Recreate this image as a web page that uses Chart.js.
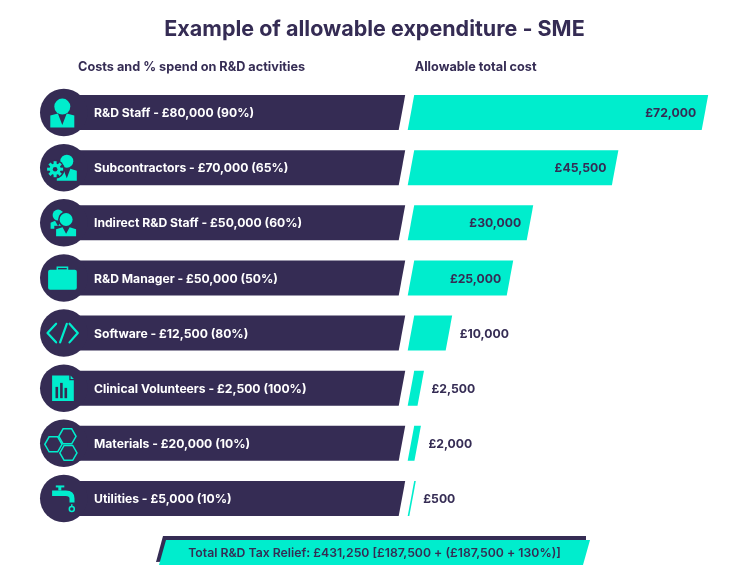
<!DOCTYPE html>
<html lang="en">
<head>
  <meta charset="UTF-8" />
  <title>Example of allowable expenditure - SME</title>
  <script src="https://cdn.jsdelivr.net/npm/chart.js"></script>
  <style>
    html, body { margin: 0; padding: 0; background: #fff; }
    #chart { display: block; }
  </style>
</head>
<body>
  <canvas id="chart" width="734" height="577"></canvas>

  <script>
    const categories = ['R&D Staff', 'Subcontractors', 'Indirect R&D Staff', 'R&D Manager', 'Software', 'Clinical Volunteers', 'Materials', 'Utilities'];
    const costs = ['£80,000', '£70,000', '£50,000', '£50,000', '£12,500', '£2,500', '£20,000', '£5,000'];
    const spendPct = [90, 65, 60, 50, 80, 100, 10, 10];
    const allowableLabels = ['£72,000', '£45,500', '£30,000', '£25,000', '£10,000', '£2,500', '£2,000', '£500'];
    // bar lengths read off the bars themselves, the picture is not quite to scale with its labels
    const allowableBars = [72000, 50000, 29150, 24250, 9300, 2400, 1650, 400];
    // left hand bars are all the same length
    const costBars = [100, 100, 100, 100, 100, 100, 100, 100];
    const iconNames = ['person', 'contractor', 'people', 'case', 'code', 'doc', 'hex', 'tap'];
    const titleText = 'Example of allowable expenditure - SME';
    const headingCosts = 'Costs and % spend on R&D activities';
    const headingAllowable = 'Allowable total cost';
    const totalText = 'Total R&D Tax Relief: £431,250 [£187,500 + (£187,500 + 130%)]';

    const DARK = '#352c54';
    const TEAL = '#00edcd';
    const FONT = 'Inter, "Noto Sans", sans-serif';
    const SLANT = 6.5;

    function slantBar(ctx, x0, x1, yTop, yBot, slantLeft) {
      ctx.beginPath();
      ctx.moveTo(x0, yBot);
      ctx.lineTo(x0 + (slantLeft ? SLANT : 0), yTop);
      ctx.lineTo(x1 + SLANT, yTop);
      ctx.lineTo(x1, yBot);
      ctx.closePath();
      ctx.fill();
    }

    // little person, head + shoulders with a v neck
    function person(ctx, cx, headY, r, top, bottom, halfW) {
      ctx.beginPath();
      ctx.arc(cx, headY, r, 0, Math.PI * 2);
      ctx.fill();
      ctx.beginPath();
      ctx.moveTo(cx - halfW, bottom);
      ctx.lineTo(cx - halfW, top + 2);
      ctx.lineTo(cx - r * 0.55, top);
      ctx.lineTo(cx, bottom - 2.5);
      ctx.lineTo(cx + r * 0.55, top);
      ctx.lineTo(cx + halfW, top + 2);
      ctx.lineTo(cx + halfW, bottom);
      ctx.closePath();
      ctx.fill();
    }

    function halo(ctx, cx, cy, r) {
      ctx.fillStyle = DARK;
      ctx.beginPath();
      ctx.arc(cx, cy, r, 0, Math.PI * 2);
      ctx.fill();
      ctx.fillStyle = TEAL;
    }

    const icons = {
      person(ctx) {
        person(ctx, -1.5, -6, 8, 1, 15, 12);
      },
      contractor(ctx) {
        person(ctx, 3, -6.5, 6.5, 1, 13, 10);
        halo(ctx, -8.7, 1.5, 9.5);
        ctx.save();
        ctx.translate(-8.7, 1.5);
        for (let i = 0; i < 8; i++) {
          ctx.rotate(Math.PI / 4);
          ctx.fillRect(-1.5, -8, 3, 4);
        }
        ctx.restore();
        ctx.beginPath();
        ctx.arc(-8.7, 1.5, 5.6, 0, Math.PI * 2);
        ctx.fill();
        ctx.fillStyle = DARK;
        ctx.beginPath();
        ctx.arc(-8.7, 1.5, 2.3, 0, Math.PI * 2);
        ctx.fill();
        ctx.fillStyle = TEAL;
      },
      people(ctx) {
        person(ctx, -5.7, -7.7, 5.5, -2, 6, 7.5);
        halo(ctx, 2.3, -3.3, 8);
        ctx.fillStyle = DARK;
        ctx.fillRect(-9.5, 3, 22, 12);
        ctx.fillStyle = TEAL;
        person(ctx, 2.3, -3.3, 6.5, 4.5, 13.5, 10);
      },
      case(ctx) {
        ctx.strokeStyle = TEAL;
        ctx.lineWidth = 1.5;
        ctx.strokeRect(-6.5, -10.7, 10.2, 3);
        ctx.beginPath();
        ctx.roundRect(-15.7, -8.3, 28.7, 20, 2);
        ctx.fill();
      },
      code(ctx) {
        ctx.strokeStyle = TEAL;
        ctx.lineWidth = 2.2;
        ctx.lineCap = 'round';
        ctx.lineJoin = 'round';
        ctx.beginPath();
        ctx.moveTo(-7.7, -9.3); ctx.lineTo(-16.3, 0); ctx.lineTo(-7.7, 9.3);
        ctx.moveTo(3, -9.3); ctx.lineTo(-3.7, 9.3);
        ctx.moveTo(5.7, -9.3); ctx.lineTo(14, 0); ctx.lineTo(5.7, 9.3);
        ctx.stroke();
      },
      doc(ctx) {
        ctx.beginPath();
        ctx.moveTo(-11.7, -12.7);
        ctx.lineTo(5.5, -12.7);
        ctx.lineTo(5.5, -8);
        ctx.lineTo(10, -8);
        ctx.lineTo(10, 12.7);
        ctx.lineTo(-11.7, 12.7);
        ctx.closePath();
        ctx.fill();
        ctx.beginPath();
        ctx.moveTo(6.8, -12.7); ctx.lineTo(10, -9.3); ctx.lineTo(6.8, -9.3);
        ctx.closePath();
        ctx.fill();
        ctx.fillStyle = DARK;
        ctx.fillRect(-8.3, -1.3, 2.6, 11.3);
        ctx.fillRect(-3.7, -5.3, 2.6, 15.3);
        ctx.fillRect(0.7, -0.3, 2.6, 10.3);
      },
      hex(ctx) {
        ctx.strokeStyle = TEAL;
        ctx.lineWidth = 1.5;
        [[3.6, -7], [-10.4, 1], [4.6, 9.6]].forEach(c => {
          ctx.beginPath();
          for (let i = 0; i < 6; i++) {
            const a = i * Math.PI / 3;
            const px = c[0] + 8.6 * Math.cos(a);
            const py = c[1] + 8.6 * Math.sin(a);
            if (i === 0) ctx.moveTo(px, py); else ctx.lineTo(px, py);
          }
          ctx.closePath();
          ctx.stroke();
        });
      },
      tap(ctx) {
        ctx.fillRect(-8, -13, 8.5, 2);
        ctx.fillRect(-5.5, -12, 3, 4);
        ctx.beginPath();
        ctx.moveTo(-11.7, -8);
        ctx.lineTo(2, -8);
        ctx.quadraticCurveTo(10.7, -8, 10.7, 0);
        ctx.lineTo(10.7, 4);
        ctx.lineTo(5.7, 4);
        ctx.lineTo(5.7, 0);
        ctx.quadraticCurveTo(5.7, -2.5, 2, -2.5);
        ctx.lineTo(-11.7, -2.5);
        ctx.closePath();
        ctx.fill();
        ctx.strokeStyle = TEAL;
        ctx.lineWidth = 1.5;
        ctx.beginPath();
        ctx.arc(8, 10.6, 2.5, 0, Math.PI * 2);
        ctx.moveTo(8, 5.8);
        ctx.lineTo(8, 8);
        ctx.stroke();
      }
    };

    // bars get their slanted ends here, geometry still comes from the scales
    const slantedBars = {
      id: 'slantedBars',
      beforeDatasetDraw(chart, args) {
        const ctx = chart.ctx;
        ctx.save();
        args.meta.data.forEach(bar => {
          const h = bar.height / 2;
          ctx.fillStyle = bar.options.backgroundColor;
          slantBar(ctx, bar.base, bar.x, bar.y - h, bar.y + h, args.index === 1);
        });
        ctx.restore();
        return false;
      }
    };

    const rowDecor = {
      id: 'rowDecor',
      afterDatasetsDraw(chart) {
        const ctx = chart.ctx;
        const darkMeta = chart.getDatasetMeta(0);
        const tealMeta = chart.getDatasetMeta(1);
        const costX = chart.scales.xCost.getPixelForValue(0);
        const allowX = chart.scales.xAllow.getPixelForValue(0);

        ctx.save();
        ctx.textBaseline = 'middle';

        // column headings
        ctx.fillStyle = DARK;
        ctx.font = '700 12.7px ' + FONT;
        ctx.textAlign = 'left';
        ctx.fillText(headingCosts, costX, 67.5);
        ctx.fillText(headingAllowable, allowX + 7, 67.5);

        darkMeta.data.forEach((bar, i) => {
          // round icon badge
          const cx = costX - 14.2;
          ctx.fillStyle = DARK;
          ctx.beginPath();
          ctx.arc(cx, bar.y, 23.8, 0, Math.PI * 2);
          ctx.fill();

          ctx.save();
          ctx.translate(cx, bar.y);
          ctx.fillStyle = TEAL;
          icons[iconNames[i]](ctx);
          ctx.restore();

          // cost label
          ctx.fillStyle = '#ffffff';
          ctx.textAlign = 'left';
          ctx.font = '700 12.15px ' + FONT;
          ctx.fillText(categories[i] + ' - ' + costs[i] + ' (' + spendPct[i] + '%)', costX + 16, bar.y + 1);

          // allowable label, inside the bar for the long ones
          const teal = tealMeta.data[i];
          ctx.fillStyle = DARK;
          ctx.font = '700 12.2px ' + FONT;
          if (allowableBars[i] >= 20000) {
            ctx.textAlign = 'right';
            ctx.fillText(allowableLabels[i], teal.x - 5.5, bar.y + 1);
          } else {
            ctx.textAlign = 'left';
            ctx.fillText(allowableLabels[i], teal.x + SLANT + 7.5, bar.y + 1);
          }
        });

        // total banner under the chart
        ctx.fillStyle = DARK;
        ctx.beginPath();
        ctx.moveTo(163, 536); ctx.lineTo(586, 536); ctx.lineTo(586, 545); ctx.lineTo(156, 562);
        ctx.closePath();
        ctx.fill();
        ctx.fillStyle = TEAL;
        ctx.beginPath();
        ctx.moveTo(166, 540); ctx.lineTo(590, 540); ctx.lineTo(583, 565); ctx.lineTo(159, 565);
        ctx.closePath();
        ctx.fill();
        ctx.fillStyle = DARK;
        ctx.textAlign = 'center';
        ctx.font = '600 12.25px ' + FONT;
        ctx.fillText(totalText, 374.5, 553);
        ctx.restore();
      }
    };

    new Chart(document.getElementById('chart'), {
      type: 'bar',
      data: {
        labels: categories,
        datasets: [
          { label: 'Costs', data: costBars, xAxisID: 'xCost', backgroundColor: DARK },
          { label: 'Allowable total cost', data: allowableBars, xAxisID: 'xAllow', backgroundColor: TEAL }
        ]
      },
      options: {
        indexAxis: 'y',
        responsive: false,
        animation: false,
        grouped: false,
        barPercentage: 0.635,
        categoryPercentage: 1,
        layout: { padding: { left: 78, right: 63, top: 0, bottom: 51 } },
        scales: {
          y: { display: false },
          xCost: { axis: 'x', type: 'linear', display: false, min: 0, max: 184.9 },
          xAllow: { axis: 'x', type: 'linear', display: false, min: -80743, max: 64482 }
        },
        plugins: {
          legend: { display: false },
          tooltip: { enabled: false },
          title: {
            display: true,
            text: titleText,
            color: DARK,
            font: { family: FONT, size: 21.5, weight: '700' },
            padding: { top: 16.5, bottom: 42.7 }
          }
        }
      },
      plugins: [slantedBars, rowDecor]
    });
  </script>
</body>
</html>
